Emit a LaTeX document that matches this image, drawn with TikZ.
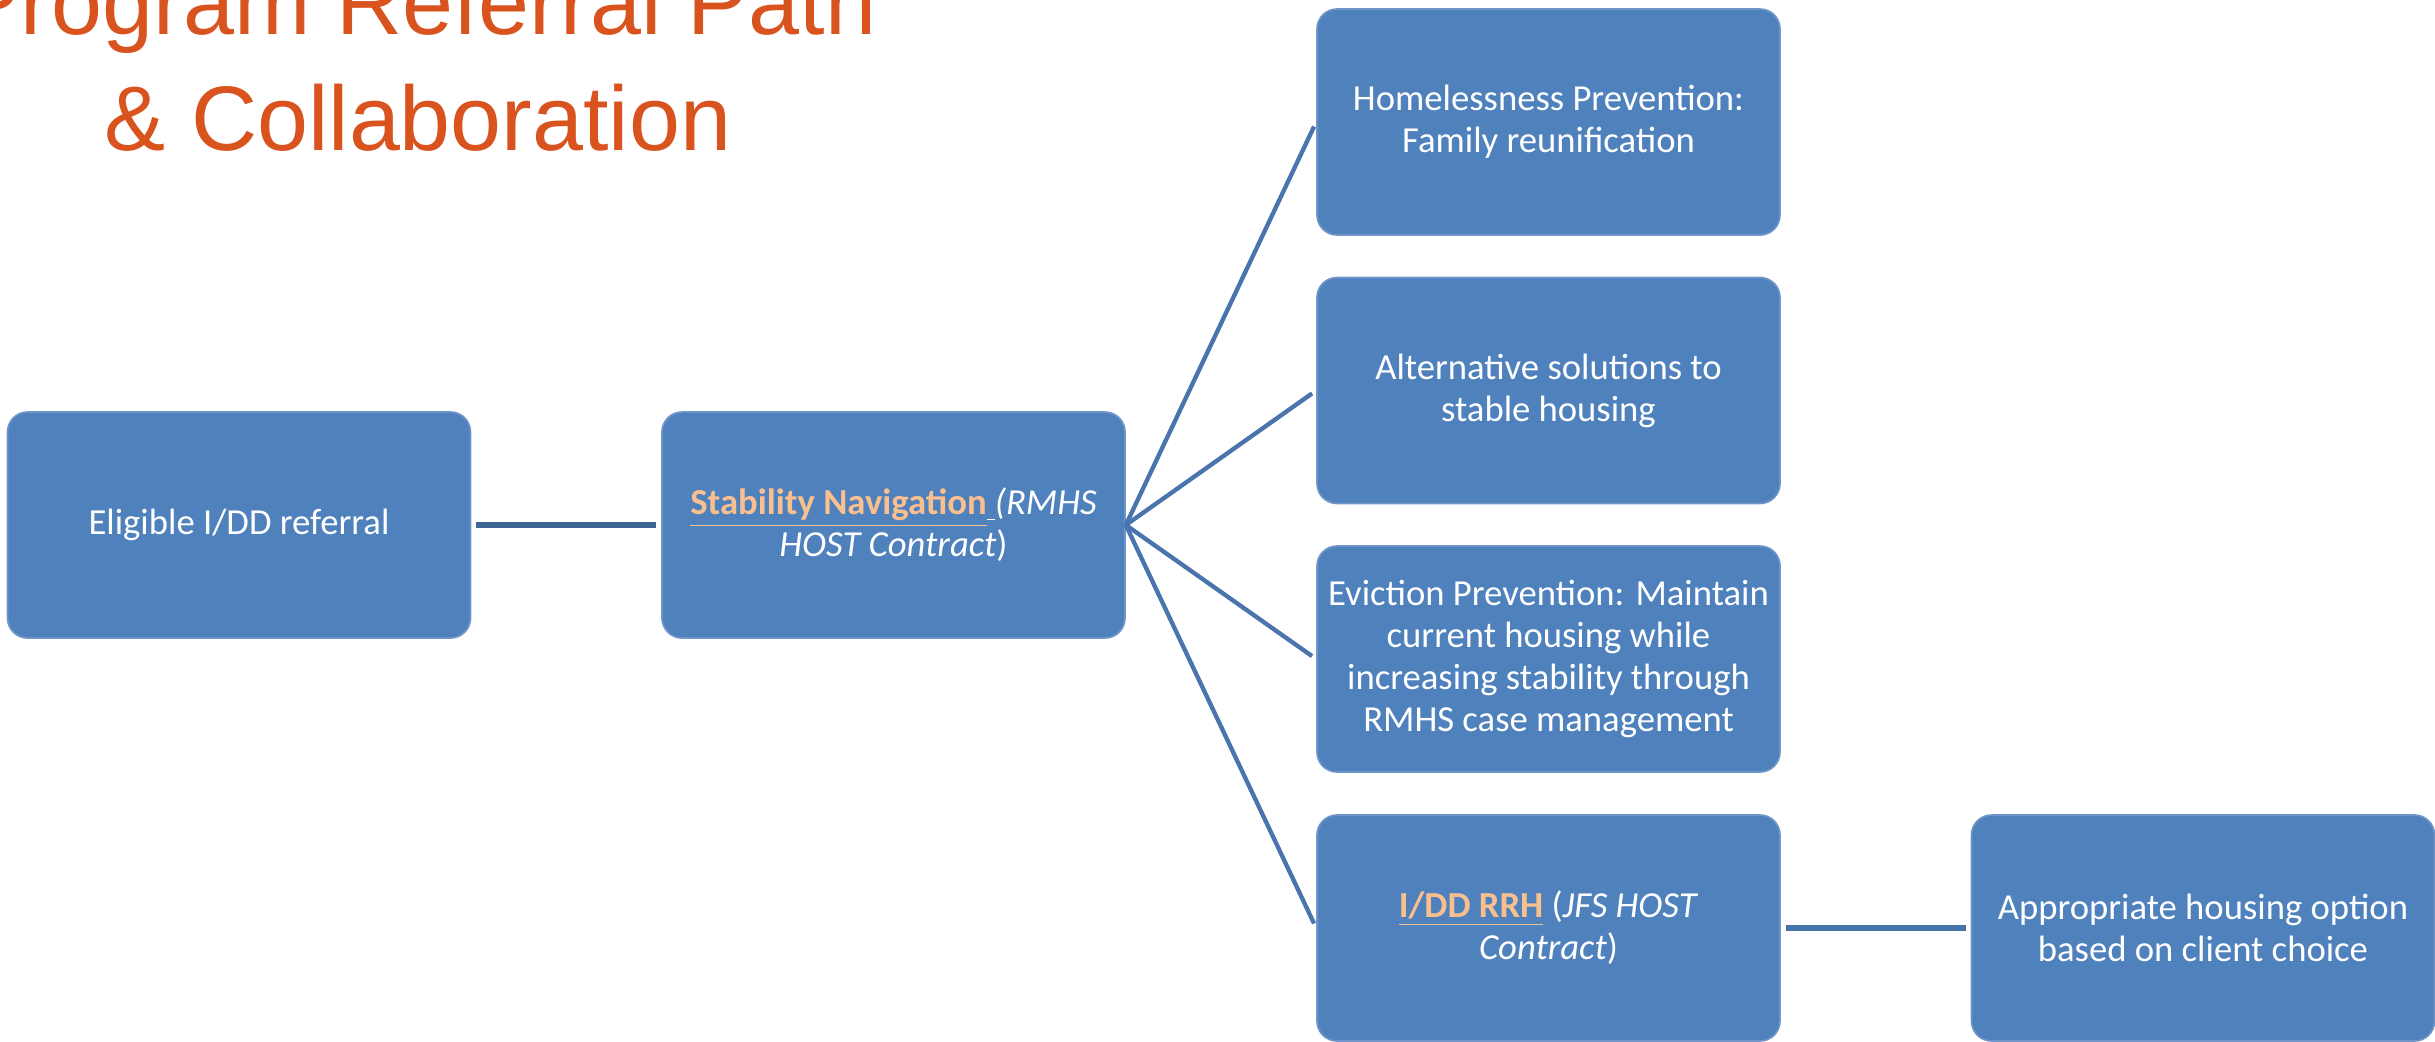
\documentclass[tikz,border=0pt]{standalone}
\usepackage{fontspec}
\setmainfont{Carlito}
\newfontfamily\headfont{Liberation Sans}
\usetikzlibrary{positioning}
\usepackage{xcolor}
\tikzset{every picture/.style={line width=0.75pt}}
\newcommand{\reflink}[1]{\textcolor[RGB]{250,191,143}{\underline{\textbf{#1}}}}

\begin{document}
\begin{tikzpicture}[x=0.3pt,y=0.3pt,yscale=-1,xscale=1,
  box/.style={draw={rgb, 255:red, 112; green, 149; blue, 201}, line width=0.5pt,
    fill={rgb, 255:red, 79; green, 129; blue, 189}, rounded corners=6pt,
    minimum width=138.9pt, minimum height=67.8pt, inner sep=1pt,
    align=center, text=white, font=\fontsize{11}{12.6}\selectfont},
  wire/.style={draw={rgb, 255:red, 63; green, 101; blue, 150}, line width=1.7pt,
    shorten <=1.5pt, shorten >=1.5pt},
  fanwire/.style={draw={rgb, 255:red, 74; green, 116; blue, 172}, line width=1.3pt,
    shorten >=1.5pt}]
\useasboundingbox (0,0) rectangle (2435,1041);

% Title
\node [anchor=south, align=center, inner sep=0pt,
  text={rgb, 255:red, 217; green, 83; blue, 30},
  font=\headfont\fontsize{27.5}{34.8}\selectfont] (title) at (418,153)
  {Program Referral Path\\\& Collaboration};

%Rounded Rect
\node [box] (referral) at (239,525) {Eligible I/DD referral};
\node [box] (navigation) at (893.5,525)
  {\reflink{Stability Navigation}\textcolor{white}{\underline{\ }}\textit{(RMHS}\\\textit{HOST Contract})};
\node [box] (prevention) at (1548.5,122) {Homelessness Prevention:\\Family reunification};
\node [box] (alternative) at (1548.5,390.5) {Alternative solutions to\\stable housing};
\node [box] (eviction) at (1548.5,659)
  {Eviction Prevention: Maintain\\current housing while\\increasing stability through\\RMHS case management};
\node [box] (rrh) at (1548.5,928) {\reflink{I/DD RRH} (\textit{JFS HOST}\\\textit{Contract})};
\node [box] (choice) at (2203,928) {Appropriate housing option\\based on client choice};

%Straight Lines
\draw [wire] (referral) -- (navigation);
\draw [wire, draw={rgb, 255:red, 72; green, 116; blue, 172}] (rrh) -- (choice);
\draw [fanwire] (navigation.east) -- (prevention.west);
\draw [fanwire] (navigation.east) -- (alternative.west);
\draw [fanwire] (navigation.east) -- (eviction.west);
\draw [fanwire] (navigation.east) -- (rrh.west);

\end{tikzpicture}
\end{document}
